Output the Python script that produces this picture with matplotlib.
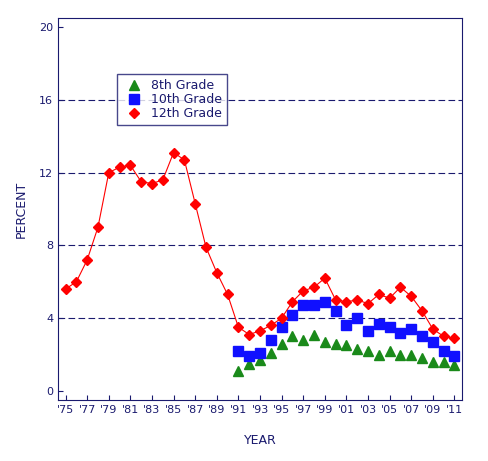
import matplotlib
matplotlib.use("Agg")
import matplotlib.pyplot as plt
import numpy as np

years12 = list(range(1975, 2012))
g12 = [5.6, 6.0, 7.2, 9.0, 12.0, 12.3, 12.4, 11.5, 11.4, 11.6, 13.1, 12.7, 10.3, 7.9,
       6.5, 5.3, 3.5, 3.1, 3.3, 3.6, 4.0, 4.9, 5.5, 5.7, 6.2, 5.0, 4.9, 5.0, 4.8, 5.3,
       5.1, 5.7, 5.2, 4.4, 3.4, 3.0, 2.9]
years = list(range(1991, 2012))
g10 = [2.2, 1.9, 2.1, 2.8, 3.5, 4.2, 4.7, 4.7, 4.9, 4.4, 3.6, 4.0, 3.3, 3.7, 3.5, 3.2,
       3.4, 3.0, 2.7, 2.2, 1.9]
g8 = [1.1, 1.5, 1.7, 2.1, 2.6, 3.0, 2.8, 3.1, 2.7, 2.6, 2.5, 2.3, 2.2, 2.0, 2.2, 2.0,
      2.0, 1.8, 1.6, 1.6, 1.4]
xticks = list(range(1975, 2012, 2))
xlabels = ["'%02d" % (y % 100) for y in xticks]
navy = "#1a1a6e"

fig = plt.figure(figsize=(4.88, 4.61), dpi=100)
ax = fig.add_axes([58/488, 61/461, 404/488, 382/461])
ax.plot(years, g8, "^", color="#1a8a1a", ms=6.5, label="8th Grade")
ax.plot(years, g10, "s", color="#1010ff", ms=6.5, label="10th Grade")
ax.plot(years12, g12, "-", color="#ff0000", lw=0.8)
ax.plot(years12, g12, "D", color="#ff0000", ms=5.5, label="12th Grade")
for v in [4, 8, 12, 16]:
    ax.axhline(v, color=navy, ls=(0, (6, 3)), lw=0.8, zorder=0)
ax.set_xlim(1974.3, 2011.7)
ax.set_ylim(-0.5, 20.5)
ax.set_yticks([0, 4, 8, 12, 16, 20])
ax.set_xticks(xticks)
ax.set_xticklabels(xlabels)
ax.tick_params(colors=navy, labelsize=8, direction="in")
for s in ax.spines.values():
    s.set_color(navy)
ax.set_xlabel("YEAR", color=navy, fontsize=9, labelpad=14)
ax.set_ylabel("PERCENT", color=navy, fontsize=9, labelpad=8)
leg = ax.legend(loc="upper left", bbox_to_anchor=(0.13, 0.87), fontsize=9,
                fancybox=False, edgecolor=navy, handletextpad=0.3, borderpad=0.4,
                labelspacing=0.1)
for t in leg.get_texts():
    t.set_color(navy)
fig.savefig("out.png")
